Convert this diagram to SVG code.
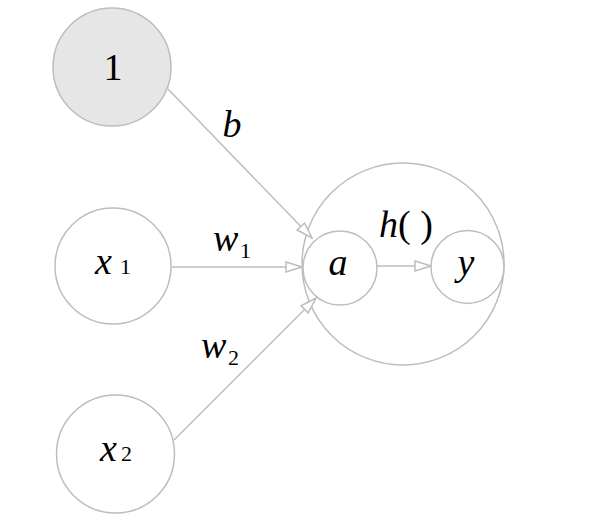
<svg xmlns="http://www.w3.org/2000/svg" width="598" height="532" viewBox="0 0 598 532">
<style>
.n{fill:#fff;stroke:#bdbdbd;stroke-width:1.5}
.e{stroke:#bdbdbd;stroke-width:1.5;fill:none}
.t{font-family:"Liberation Serif",serif;font-size:38px;fill:#000}
.i{font-style:italic}
.s{font-family:"Liberation Serif",serif;font-size:22px;fill:#000}
.m{text-anchor:middle}
</style>
<defs>
<marker id="ah" viewBox="0 0 18 12" refX="17" refY="6" markerWidth="18" markerHeight="12" markerUnits="userSpaceOnUse" orient="auto">
<path d="M1,1 L17,6 L1,11 Z" fill="#fff" stroke="#bdbdbd" stroke-width="1.5"/>
</marker>
</defs>
<g id="neuron"><circle class="n" cx="403" cy="264" r="101"/></g>
<g id="connectors">
<line class="e" x1="168" y1="89" x2="312" y2="238" marker-end="url(#ah)"/>
<line class="e" x1="172" y1="267" x2="302" y2="267" marker-end="url(#ah)"/>
<line class="e" x1="174" y1="440" x2="316" y2="298" marker-end="url(#ah)"/>
<line class="e" x1="377" y1="266" x2="431" y2="266" marker-end="url(#ah)"/>
</g>
<g id="one"><circle class="n" cx="112" cy="67" r="59" style="fill:#e6e6e6"/><text class="t m" x="113" y="80">1</text></g>
<g id="x1"><circle class="n" cx="113" cy="266" r="58"/><text class="t i" x="95" y="274">x</text><text class="s" x="120" y="274">1</text></g>
<g id="x2"><circle class="n" cx="115.5" cy="454" r="59"/><text class="t i" x="100" y="461">x</text><text class="s" x="121" y="461">2</text></g>
<g id="a"><circle class="n" cx="340" cy="268" r="37"/><text class="t i m" x="338" y="275">a</text></g>
<g id="y"><circle class="n" cx="467.5" cy="267" r="36.5"/><text class="t i m" x="466" y="275">y</text></g>
<g id="labels">
<text class="t i m" x="232" y="137">b</text>
<text class="t i" x="213" y="251">w</text><text class="s" x="240" y="258">1</text>
<text class="t i" x="201" y="358">w</text><text class="s" x="228" y="365">2</text>
<text class="t" x="379" y="237"><tspan class="i">h</tspan>( )</text>
</g>
</svg>
